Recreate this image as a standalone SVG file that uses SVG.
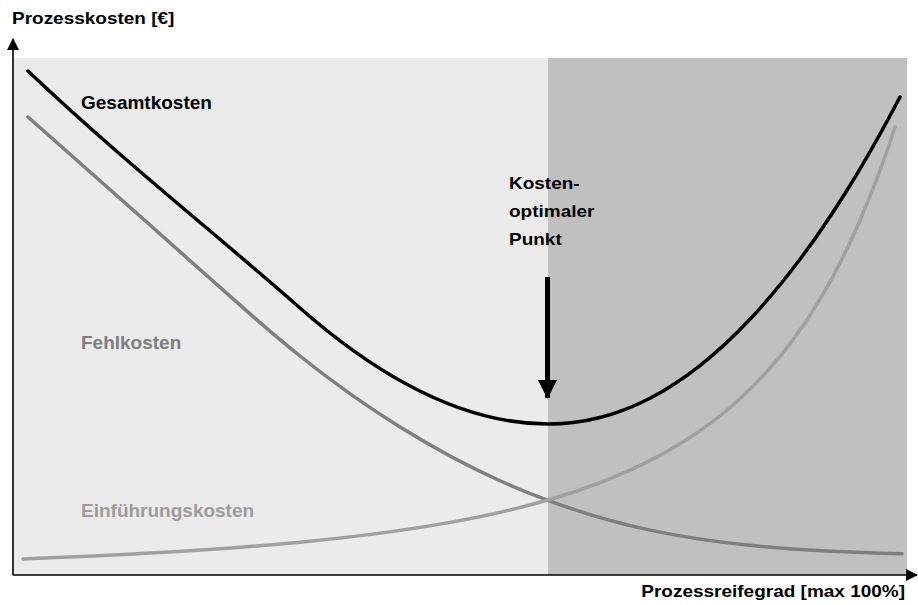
<svg xmlns="http://www.w3.org/2000/svg" width="918" height="605" viewBox="0 0 918 605">
<style>
text{font-family:"Liberation Sans",Arial,sans-serif;font-weight:bold;font-size:19px}
.lbl{fill:#000}
.curve{fill:none;stroke-width:3.5;stroke-linecap:round}
.axis{stroke:#000;stroke-width:1.6;fill:none}
</style>
<defs>
<marker id="ah" markerWidth="12" markerHeight="12" refX="11" refY="6" orient="auto" markerUnits="userSpaceOnUse">
<path d="M0,0 L12,6 L0,12 Z" fill="#000"/>
</marker>
<marker id="ahBig" markerWidth="19" markerHeight="19" refX="18" refY="9.5" orient="auto" markerUnits="userSpaceOnUse">
<path d="M0,0 L19,9.5 L0,19 Z" fill="#000"/>
</marker>
</defs>
<g id="background">
<rect x="13" y="58" width="535" height="517" fill="#ebebeb"/>
<rect x="548" y="58" width="359" height="517" fill="#c0c0c0"/>
</g>
<g id="connectors">
<path id="fehlkosten-curve" class="curve" stroke="#7f7f7f" d="M28,117 C68.7,153 109.3,188.9 150,225 C183.3,254.6 216.7,284.6 250,313.9 C266.7,328.6 283.3,342.7 300,356 C333.3,382.7 366.7,406.3 400,427 C433.3,447.7 466.7,465.75 500,480.75 C516,487.95 532,494.5 548,500.4 C582,513 616,522.96 650,530.1 C683.3,537.1 716.7,542 750,545.35 C800.7,550.4 851.3,552.5 902,553.8"/>
<path id="einfuehrung-curve" class="curve" stroke="#a0a0a0" d="M23,558.9 C65.3,557.35 107.7,555.44 150,553.1 C200,550.34 250,546.96 300,542.2 C350,537.44 400,531.38 450,522.4 C482.7,516.54 515.3,509.45 548,500 C582,490.17 616,477.95 650,460.6 C680,445.3 710,426.1 740,398.7 C766.7,374.35 793.3,343.7 820,299.3 C833.3,277.1 846.7,251.4 860,220.2 C871.7,192.9 883.3,164.7 895,127"/>
<path id="gesamt-curve" class="curve" stroke="#000" d="M28,71 C118,156.5 210,229 300,308 C382.7,380.7 465.3,424 548,424 C565.3,424 583.3,421.75 600,417.5 C616.7,413.25 633.3,406.8 650,398.2 C666.7,389.6 683.3,378.7 700,365.6 C716.7,352.5 733.3,337 750,319.3 C766.7,301.6 783.3,281.5 800,259.3 C816.7,237.1 833.3,212.5 850,185.5 C866.7,158.5 883.3,128.7 900,97"/>
<line id="y-axis" class="axis" x1="13" y1="575" x2="13" y2="39" marker-end="url(#ah)"/>
<line id="x-axis" class="axis" x1="13" y1="575" x2="917" y2="575" marker-end="url(#ah)"/>
<line id="optimum-arrow" x1="547.5" y1="277" x2="547.5" y2="398" stroke="#000" stroke-width="5" marker-end="url(#ahBig)"/>
</g>
<g id="label-y">
<text class="lbl" transform="translate(12,24) scale(1,0.83)">Prozesskosten [€]</text>
</g>
<g id="label-x">
<text class="lbl" text-anchor="end" transform="translate(905,597) scale(1,0.83)">Prozessreifegrad [max 100%]</text>
</g>
<g id="node-gesamtkosten">
<text class="lbl" x="81" y="109">Gesamtkosten</text>
</g>
<g id="node-fehlkosten">
<text x="81" y="349" fill="#7f7f7f">Fehlkosten</text>
</g>
<g id="node-einfuehrungskosten">
<text x="81" y="517" fill="#9c9c9c">Einführungskosten</text>
</g>
<g id="node-optimum">
<text class="lbl" transform="translate(509,189) scale(1,0.83)">Kosten-</text>
<text class="lbl" transform="translate(509,217) scale(1,0.83)">optimaler</text>
<text class="lbl" transform="translate(509,245) scale(1,0.83)">Punkt</text>
</g>
</svg>
